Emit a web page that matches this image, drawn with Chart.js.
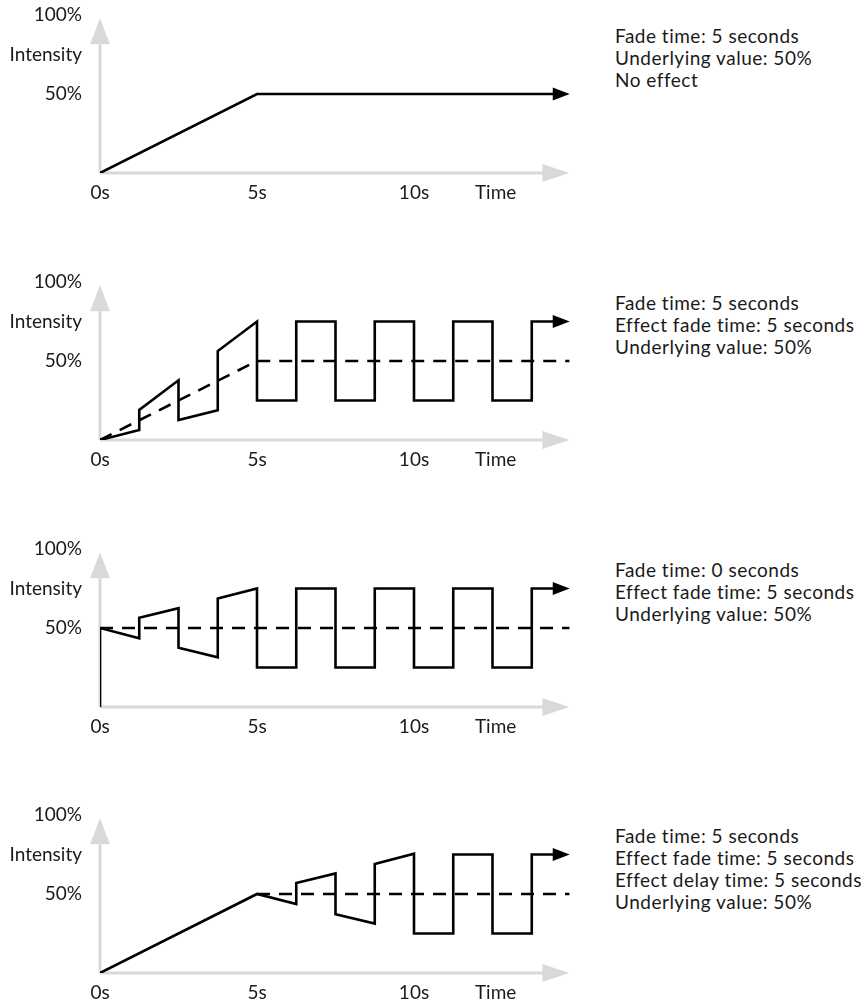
<!DOCTYPE html>
<html>
<head>
<meta charset="utf-8">
<script src="https://cdn.jsdelivr.net/npm/chart.js@4.4.1/dist/chart.umd.min.js"></script>
<style>
  body { margin: 0; background: #fff; overflow: hidden; }
  #wrap { position: relative; width: 867px; height: 1000px; }
  .panel { position: absolute; left: 0; width: 867px; height: 205px; }
  .panel canvas { position: absolute; left: 0; top: 0; }
  .notes {
    position: absolute; left: 615px; top: 25px;
    font-family: Lato, sans-serif; font-size: 19px; line-height: 22px;
    letter-spacing: 0.5px; color: #1a1a1a; white-space: nowrap;
  }
</style>
</head>
<body>
<div id="wrap"></div>
<script>
// ---- data ----
// axis ticks
const xTickValues = [0, 5, 10, 12.6];
const xTickLabels = ['0s', '5s', '10s', 'Time'];
const yTickValues = [50, 75, 100];
const yTickLabels = ['50%', 'Intensity', '100%'];

// panel 1: fade only
const p1SolidT = [0, 5, 14.45];
const p1SolidV = [0, 50, 50];
const p1DashT = [];
const p1DashV = [];
const p1Notes = ['Fade time: 5 seconds', 'Underlying value: 50%', 'No effect'];

// panel 2: fade + effect fade
const p2SolidT = [0, 1.25, 1.25, 2.5, 2.5, 3.75, 3.75, 5, 5, 6.25, 6.25, 7.5, 7.5, 8.75, 8.75, 10, 10, 11.25, 11.25, 12.5, 12.5, 13.75, 13.75, 14.45];
const p2SolidV = [0, 6.3, 19, 37.8, 12.6, 18.9, 56.3, 75, 25, 25, 75, 75, 25, 25, 75, 75, 25, 25, 75, 75, 25, 25, 75, 75];
const p2DashT = [0, 5, 14.95];
const p2DashV = [0, 50, 50];
const p2Notes = ['Fade time: 5 seconds', 'Effect fade time: 5 seconds', 'Underlying value: 50%'];

// panel 3: no fade, effect fade
const p3SolidT = [0, 0, 1.25, 1.25, 2.5, 2.5, 3.75, 3.75, 5, 5, 6.25, 6.25, 7.5, 7.5, 8.75, 8.75, 10, 10, 11.25, 11.25, 12.5, 12.5, 13.75, 13.75, 14.45];
const p3SolidV = [0, 50, 43.5, 56.5, 62.5, 37.5, 31.5, 68.7, 75, 25, 25, 75, 75, 25, 25, 75, 75, 25, 25, 75, 75, 25, 25, 75, 75];
const p3DashT = [0, 14.95];
const p3DashV = [50, 50];
const p3Notes = ['Fade time: 0 seconds', 'Effect fade time: 5 seconds', 'Underlying value: 50%'];

// panel 4: fade, then delayed effect fade
const p4SolidT = [0, 5, 6.25, 6.25, 7.5, 7.5, 8.75, 8.75, 10, 10, 11.25, 11.25, 12.5, 12.5, 13.75, 13.75, 14.45];
const p4SolidV = [0, 50, 43.6, 56.9, 63, 37.2, 31.3, 69, 75.5, 25, 25, 75, 75, 25, 25, 75, 75];
const p4DashT = [5, 14.95];
const p4DashV = [50, 50];
const p4Notes = ['Fade time: 5 seconds', 'Effect fade time: 5 seconds', 'Effect delay time: 5 seconds', 'Underlying value: 50%'];

// ---- styling / layout ----
const FONT = { family: 'Lato, sans-serif', size: 19 };
const TEXT_COLOR = '#1a1a1a';
const AXIS_GREY = '#d9d9d9';
const X_AXIS_END = 14.95;   // where the grey time arrow points
const Y_AXIS_END = 98;      // where the grey intensity arrow points
const panelTops = [0, 267, 534, 800];

const panels = [
  { solidT: p1SolidT, solidV: p1SolidV, dashT: p1DashT, dashV: p1DashV, notes: p1Notes },
  { solidT: p2SolidT, solidV: p2SolidV, dashT: p2DashT, dashV: p2DashV, notes: p2Notes },
  { solidT: p3SolidT, solidV: p3SolidV, dashT: p3DashT, dashV: p3DashV, notes: p3Notes },
  { solidT: p4SolidT, solidV: p4SolidV, dashT: p4DashT, dashV: p4DashV, notes: p4Notes }
];

const toPoints = (ts, vs) => ts.map((t, i) => ({ x: t, y: vs[i] }));

// grey axes with arrow heads, and an arrow head on the end of the signal line
const arrowPlugin = {
  id: 'arrowPlugin',
  beforeDatasetsDraw(chart) {
    const { ctx, scales: { x, y } } = chart;
    const x0 = x.getPixelForValue(0);
    const y0 = y.getPixelForValue(0);
    const xEnd = x.getPixelForValue(X_AXIS_END);
    const yEnd = y.getPixelForValue(Y_AXIS_END);
    ctx.save();
    ctx.strokeStyle = AXIS_GREY;
    ctx.fillStyle = AXIS_GREY;
    ctx.lineWidth = 3;
    ctx.beginPath();
    ctx.moveTo(x0, y0);
    ctx.lineTo(xEnd - 26, y0);
    ctx.moveTo(x0, y0);
    ctx.lineTo(x0, yEnd + 26);
    ctx.stroke();
    ctx.beginPath();
    ctx.moveTo(xEnd, y0);
    ctx.lineTo(xEnd - 27, y0 - 9);
    ctx.lineTo(xEnd - 27, y0 + 9);
    ctx.closePath();
    ctx.fill();
    ctx.beginPath();
    ctx.moveTo(x0, yEnd);
    ctx.lineTo(x0 - 10, yEnd + 26);
    ctx.lineTo(x0 + 10, yEnd + 26);
    ctx.closePath();
    ctx.fill();
    ctx.restore();
  },
  afterDatasetsDraw(chart) {
    const meta = chart.getDatasetMeta(0);
    const last = meta.data[meta.data.length - 1];
    if (!last) return;
    const ctx = chart.ctx;
    ctx.save();
    ctx.fillStyle = '#000';
    ctx.beginPath();
    ctx.moveTo(last.x - 1, last.y - 6.5);
    ctx.lineTo(last.x + 16, last.y);
    ctx.lineTo(last.x - 1, last.y + 6.5);
    ctx.closePath();
    ctx.fill();
    ctx.restore();
  }
};

function makePanel(p, top) {
  const wrap = document.getElementById('wrap');
  const div = document.createElement('div');
  div.className = 'panel';
  div.style.top = top + 'px';
  const canvas = document.createElement('canvas');
  canvas.width = 600;
  canvas.height = 205;
  div.appendChild(canvas);
  const notes = document.createElement('div');
  notes.className = 'notes';
  notes.innerHTML = p.notes.join('<br>');
  div.appendChild(notes);
  wrap.appendChild(div);

  const datasets = [{
    data: toPoints(p.solidT, p.solidV),
    borderColor: '#000',
    borderWidth: 2.6,
    pointRadius: 0,
    tension: 0,
    borderJoinStyle: 'miter',
    borderCapStyle: 'butt'
  }];
  if (p.dashT.length) {
    datasets.push({
      data: toPoints(p.dashT, p.dashV),
      borderColor: '#000',
      borderWidth: 2.6,
      borderDash: [13, 9],
      pointRadius: 0,
      tension: 0
    });
  }

  new Chart(canvas, {
    type: 'line',
    data: { datasets: datasets },
    options: {
      responsive: false,
      animation: false,
      devicePixelRatio: 1,
      events: [],
      layout: { padding: { top: 15, right: 29, left: 0, bottom: 0 } },
      plugins: { legend: { display: false }, tooltip: { enabled: false } },
      scales: {
        x: {
          type: 'linear',
          min: 0,
          max: 15,
          grid: { display: false, drawTicks: false },
          border: { display: false },
          afterBuildTicks: (scale) => { scale.ticks = xTickValues.map(v => ({ value: v })); },
          afterFit: (scale) => {
            scale.height = 32;
            scale.paddingLeft = 0;
            scale.paddingRight = 0;
          },
          ticks: {
            padding: 8,
            color: TEXT_COLOR,
            font: FONT,
            maxRotation: 0,
            autoSkip: false,
            callback: (v) => xTickLabels[xTickValues.indexOf(v)]
          }
        },
        y: {
          min: 0,
          max: 100,
          grid: { display: false, drawTicks: false },
          border: { display: false },
          afterBuildTicks: (scale) => { scale.ticks = yTickValues.map(v => ({ value: v })); },
          afterFit: (scale) => {
            scale.width = 100;
            scale.paddingTop = 0;
            scale.paddingBottom = 0;
          },
          ticks: {
            padding: 18,
            color: TEXT_COLOR,
            font: FONT,
            autoSkip: false,
            callback: (v) => yTickLabels[yTickValues.indexOf(v)]
          }
        }
      }
    },
    plugins: [arrowPlugin]
  });
}

panels.forEach((p, i) => makePanel(p, panelTops[i]));
</script>
</body>
</html>
